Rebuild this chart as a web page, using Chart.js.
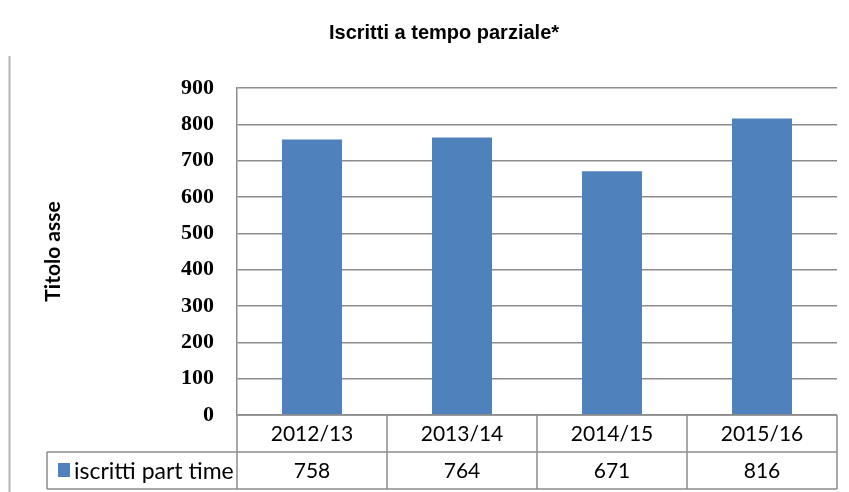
<!DOCTYPE html>
<html>
<head>
<meta charset="utf-8">
<script src="https://cdn.jsdelivr.net/npm/chart.js@4/dist/chart.umd.min.js"></script>
<style>
html,body{margin:0;padding:0;background:#ffffff;}
#wrap{width:849px;height:492px;position:relative;}
</style>
</head>
<body>
<div id="wrap"><canvas id="c" width="849" height="492"></canvas></div>
<script>
// ---- data ----
const chartTitle = 'Iscritti a tempo parziale*';
const axisTitle = 'Titolo asse';
const categories = ['2012/13', '2013/14', '2014/15', '2015/16'];
const seriesName = 'iscritti part time';
const values = [758, 764, 671, 816];
const yTickValues = [0, 100, 200, 300, 400, 500, 600, 700, 800, 900];

// ---- style ----
const barColor = '#4F81BD';
const lineColor = '#8c8c8c';
const tableFont = '21px Lato, "Liberation Sans", sans-serif';
const headerFont = '23px Lato, "Liberation Sans", sans-serif';

const dataTablePlugin = {
  id: 'dataTable',
  afterDraw(chart) {
    const {ctx, chartArea: a, scales: {x}} = chart;
    const rowH = 37;
    const top = a.bottom, mid = top + rowH, bot = mid + rowH;
    const headerLeft = 47;
    const n = categories.length;
    const bounds = [];
    for (let i = 0; i <= n; i++) {
      if (i === 0) bounds.push(a.left);
      else if (i === n) bounds.push(a.right);
      else bounds.push((x.getPixelForValue(i - 1) + x.getPixelForValue(i)) / 2);
    }
    ctx.save();
    // outer frame line at the left
    ctx.strokeStyle = '#b4b4b4';
    ctx.lineWidth = 2;
    ctx.beginPath(); ctx.moveTo(9.5, 56); ctx.lineTo(9.5, 492); ctx.stroke();

    ctx.strokeStyle = lineColor;
    ctx.lineWidth = 1.5;
    ctx.beginPath();
    ctx.moveTo(a.left, top); ctx.lineTo(a.right, top);
    ctx.moveTo(headerLeft, mid); ctx.lineTo(a.right, mid);
    ctx.moveTo(headerLeft, bot); ctx.lineTo(a.right, bot);
    ctx.moveTo(headerLeft, mid); ctx.lineTo(headerLeft, bot);
    bounds.forEach(b => { ctx.moveTo(b, top); ctx.lineTo(b, bot); });
    ctx.stroke();

    ctx.fillStyle = '#000';
    ctx.font = tableFont;
    ctx.textAlign = 'center';
    ctx.textBaseline = 'middle';
    categories.forEach((c, i) => {
      const cx = x.getPixelForValue(i);
      ctx.fillText(c, cx, top + rowH / 2 + 1);
      ctx.fillText(String(chart.data.datasets[0].data[i]), cx, mid + rowH / 2 + 1);
    });
    // legend key + series name
    ctx.fillStyle = barColor;
    ctx.fillRect(58, mid + 11, 12, 14);
    ctx.fillStyle = '#000';
    ctx.font = headerFont;
    ctx.textAlign = 'left';
    ctx.fillText(seriesName, 74, mid + rowH / 2 + 1);
    ctx.restore();
  }
};

new Chart(document.getElementById('c'), {
  type: 'bar',
  data: {
    labels: categories,
    datasets: [{
      label: seriesName,
      data: values,
      backgroundColor: barColor,
      borderWidth: 0,
      categoryPercentage: 0.8,
      barPercentage: 0.5
    }]
  },
  options: {
    responsive: false,
    animation: false,
    devicePixelRatio: 1,
    layout: { padding: { left: 51, right: 12, top: 0, bottom: 77 } },
    plugins: {
      legend: { display: false },
      tooltip: { enabled: false },
      title: {
        display: true,
        text: chartTitle,
        color: '#000',
        font: { family: '"Liberation Sans", Arial, sans-serif', size: 20, weight: 'bold' },
        padding: { top: 21, bottom: 43 }
      }
    },
    scales: {
      x: {
        type: 'category',
        display: false,
        offset: true
      },
      y: {
        min: 0,
        max: 900,
        afterBuildTicks(scale) { scale.ticks = yTickValues.map(v => ({ value: v })); },
        afterFit(scale) { scale.width = 186; },
        ticks: {
          color: '#000',
          padding: 23,
          font: { family: '"Liberation Serif", serif', size: 22, weight: 'bold' }
        },
        grid: { color: lineColor, lineWidth: 1.5, drawTicks: false },
        border: { display: true, color: lineColor, width: 1.5 },
        title: {
          display: true,
          text: axisTitle,
          color: '#000',
          font: { family: 'Lato, "Liberation Sans", sans-serif', size: 21, weight: 'bold' },
          padding: { top: -10.6, bottom: 0 }
        }
      }
    }
  },
  plugins: [dataTablePlugin]
});
</script>
</body>
</html>
